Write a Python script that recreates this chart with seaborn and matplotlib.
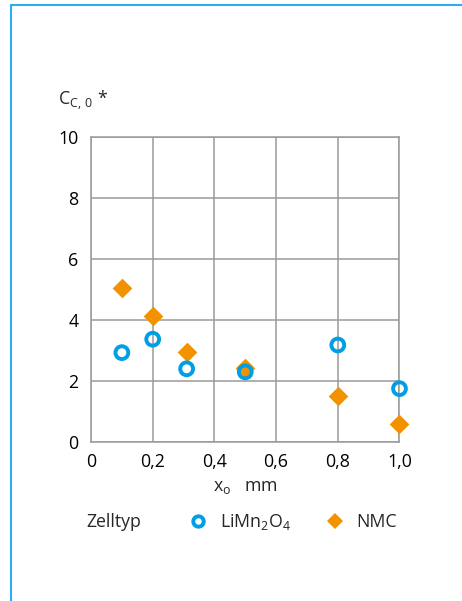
import matplotlib
matplotlib.use("Agg")
import matplotlib.pyplot as plt
from matplotlib.lines import Line2D
import seaborn as sns
import pandas as pd

# Measured values per cell type
x_limn = [0.10, 0.20, 0.31, 0.50, 0.80, 1.00]
c_limn = [2.92, 3.36, 2.39, 2.29, 3.17, 1.74]
x_nmc = [0.10, 0.20, 0.31, 0.50, 0.80, 1.00]
c_nmc = [5.03, 4.12, 2.95, 2.42, 1.51, 0.58]

x_ticks = [0, 0.2, 0.4, 0.6, 0.8, 1.0]
x_tick_labels = ["0", "0,2", "0,4", "0,6", "0,8", "1,0"]
y_ticks = [0, 2, 4, 6, 8, 10]

BLUE = "#009fe3"
ORANGE = "#f39200"
GRID = "#9a9a9a"
FRAME = "#2aaef0"
FS = 12.8

sns.set_style("white")
plt.rcParams["font.family"] = ["Open Sans", "DejaVu Sans"]
plt.rcParams["mathtext.default"] = "regular"

df_limn = pd.DataFrame({"x": x_limn, "c": c_limn})
df_nmc = pd.DataFrame({"x": x_nmc, "c": c_nmc})

fig = plt.figure(figsize=(4.62, 6.01), dpi=100)
ax = fig.add_axes([0.197, 0.265, 0.6677, 0.5077])

sns.scatterplot(data=df_nmc, x="x", y="c", ax=ax, marker="D", s=100,
                color=ORANGE, edgecolor=ORANGE, linewidth=0, clip_on=False,
                zorder=3)
sns.scatterplot(data=df_limn, x="x", y="c", ax=ax, marker="o", s=85,
                facecolor="none", edgecolor=BLUE, linewidth=2.8, clip_on=False,
                zorder=4)

ax.set_xlim(0, 1.0)
ax.set_ylim(0, 10)
ax.set_xticks(x_ticks)
ax.set_xticklabels(x_tick_labels)
ax.set_yticks(y_ticks)
ax.set_yticklabels([str(v) for v in y_ticks])
ax.tick_params(axis="both", length=0, labelsize=FS, colors="black", pad=9)
ax.tick_params(axis="x", pad=8)
ax.grid(True, color=GRID, linewidth=1.1)
ax.set_axisbelow(True)
for sp in ax.spines.values():
    sp.set_color(GRID)
    sp.set_linewidth(1.1)
ax.set_xlabel("")
ax.set_ylabel("")

# Axis titles
fig.text(0.1255, 0.834, "C$_{C,\\,0}$ *", fontsize=FS, ha="left", va="center")
fig.text(0.53, 0.189, "x$_o$   mm", fontsize=FS, ha="center", va="center")

# Legend row
fig.text(0.186, 0.131, "Zelltyp", fontsize=FS, ha="left", va="center")
handles = [
    Line2D([], [], linestyle="none", marker="o", markersize=7.5,
           markerfacecolor="none", markeredgecolor=BLUE, markeredgewidth=2.8),
    Line2D([], [], linestyle="none", marker="D", markersize=8.0,
           markerfacecolor=ORANGE, markeredgecolor=ORANGE, markeredgewidth=0),
]
fig.legend(handles, ["LiMn$_2$O$_4$", "NMC"], ncol=2, frameon=False,
           loc="center left", bbox_to_anchor=(0.41, 0.131),
           fontsize=FS, handlelength=1.0, handletextpad=0.7,
           columnspacing=2.0, borderaxespad=0, borderpad=0)

# Page frame: top and left rule
fig.add_artist(Line2D([0.0238, 0.0238], [0.0, 0.9917], transform=fig.transFigure,
                      color=FRAME, linewidth=1.5))
fig.add_artist(Line2D([0.0238, 1.0], [0.9917, 0.9917], transform=fig.transFigure,
                      color=FRAME, linewidth=1.5))

fig.savefig("out.png", dpi=100)
